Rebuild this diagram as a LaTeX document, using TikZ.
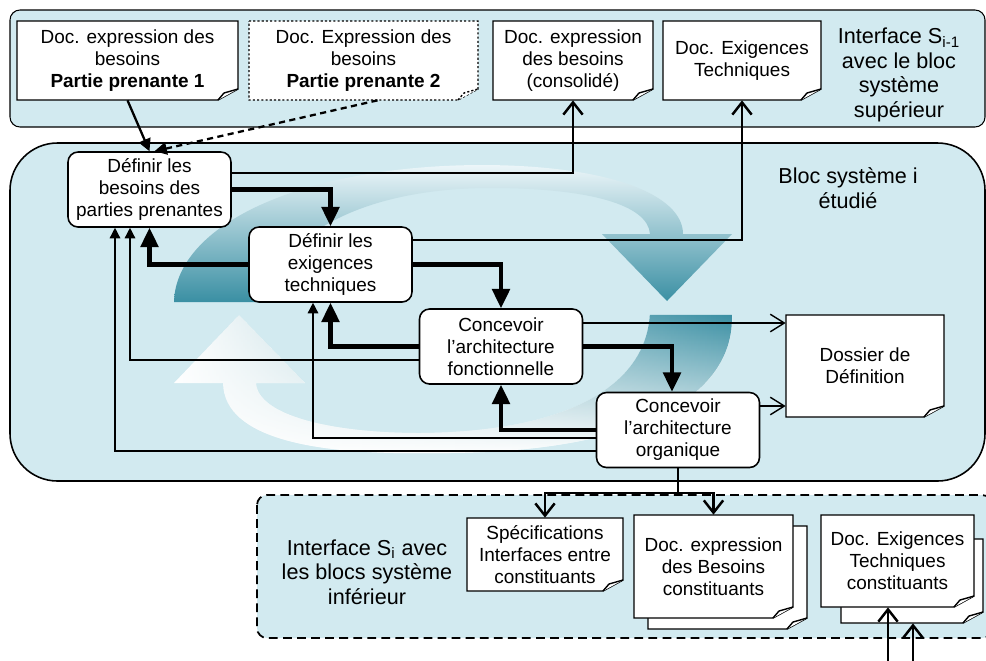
\documentclass[tikz,border=0pt]{standalone}
\usepackage{fontspec}
\setmainfont{Liberation Sans}
\usetikzlibrary{arrows.meta,calc,fadings}

\definecolor{bandblue}{RGB}{210,234,240}
\definecolor{ringteal}{RGB}{58,143,163}
\definecolor{ringlight}{RGB}{236,246,249}

\newcommand{\diagfont}{\fontsize{10.8}{12.5}\selectfont}
\newcommand{\bandfont}{\fontsize{12.3}{14}\selectfont}

% page with folded corner, then a named text node on it
\newcommand{\notepage}[7][]{%
  \filldraw[page,#1] (#3,#4) -- (#5,#4) -- (#5,#6-11) -- (#5-20,#6) -- (#3,#6) -- cycle;
  \filldraw[page,#1] (#5-20,#6) -- (#5-14,#6-7) -- (#5,#6-11);
  \node[doctext, minimum width={(#5-#3)*0.02cm}, minimum height={(#6-#4)*0.02cm}]
    (#2) at ({(#3+#5)/2},{(#4+#6)/2}) {#7};
}

\tikzset{
  band/.style={draw=black, line width=0.6pt, fill=bandblue},
  page/.style={draw=black, line width=0.8pt, fill=white},
  doctext/.style={inner sep=0pt, align=center},
  process/.style={draw=black, line width=0.9pt, fill=white, rounded corners=0.2cm,
    align=center, minimum width=3.26cm, minimum height=1.5cm, inner sep=1pt},
  bandlabel/.style={align=center, inner sep=0pt, font=\bandfont},
  thickflow/.style={line width=2.3pt, -{Triangle[length=11pt,width=10pt]}},
  thinback/.style={line width=0.8pt, -{Triangle[length=6pt,width=6pt]}},
  inflow/.style={line width=1.3pt, -{Triangle[length=7pt,width=7pt]}},
  docflow/.style={line width=1.4pt, -{Straight Barb[length=7pt,width=11pt]}},
  thinout/.style={line width=0.8pt, -{Straight Barb[length=8pt,width=10pt]}},
}

\begin{document}
\begin{tikzpicture}[x=0.02cm, y=-0.02cm, font=\diagfont]
\useasboundingbox (0,0) rectangle (986,660);

% bands
\draw[band, rounded corners=0.2cm] (10,10) rectangle (985,127);
\draw[band, line width=0.9pt, rounded corners=0.95cm] (10,143) rectangle (985,481);
\draw[band, line width=1pt, dash pattern=on 5pt off 3pt, rounded corners=0.2cm] (257,495) rectangle (992,638);

% cycle arrows
\shade[top color=ringlight, bottom color=ringteal]
  (174,302) .. controls (176,225) and (300,166) .. (480,165)
  .. controls (610,165) and (683,195) .. (683,234)
  -- (732,234) -- (667,301) -- (602,234) -- (650,234)
  .. controls (648,205) and (590,188) .. (490,188)
  .. controls (380,188) and (282,225) .. (265,302) -- cycle;
\def\ringback{(650,315) .. controls (645,390) and (560,432) .. (420,433)
  .. controls (330,433) and (258,415) .. (256,383)
  -- (305,383) -- (239,315) -- (174,383) -- (223,383)
  .. controls (224,440) and (320,455) .. (430,453)
  .. controls (650,455) and (735,390) .. (732,315) -- cycle}
\fill[white] \ringback;
\shade[top color=ringteal, bottom color=white, path fading=west] \ringback;

% documents
\notepage{d1}{17}{21}{238}{100}{Doc. expression des\\besoins\\\textbf{Partie prenante 1}}
\notepage[dash pattern=on 1.2pt off 1.2pt]{d2}{249}{21}{478}{100}{Doc. Expression des\\besoins\\\textbf{Partie prenante 2}}
\notepage{d3}{493}{21}{653}{100}{Doc. expression\\des besoins\\(consolidé)}
\notepage{d4}{663}{21}{821}{100}{Doc. Exigences\\Techniques}
\notepage{dos}{786}{315}{944}{417}{Dossier de\\Définition}
\notepage{b1}{467}{518}{623}{591}{Spécifications\\Interfaces entre\\constituants}
\notepage{b2back}{648}{526}{807}{629}{}
\notepage{b2}{634}{515}{793}{618}{Doc. expression\\des Besoins\\constituants}
\notepage{b3back}{841}{539}{983}{623}{}
\notepage{b3}{821}{515}{974}{607}{Doc. Exigences\\Techniques\\constituants}

% process steps
\node[process] (p1) at (149.5,189.5) {Définir les\\besoins des\\parties prenantes};
\node[process] (p2) at (330.5,264.5) {Définir les\\exigences\\techniques};
\node[process] (p3) at (501,346.5) {Concevoir\\l’architecture\\fonctionnelle};
\node[process] (p4) at (678,430) {Concevoir\\l’architecture\\organique};

% labels
\node[bandlabel] (suplabel) at (899,75) {Interface S\textsubscript{i-1}\\avec le bloc\\système\\supérieur};
\node[bandlabel] (bloclabel) at (848,188) {Bloc système i\\étudié};
\node[bandlabel] (inflabel) at (367,572) {Interface S\textsubscript{i} avec\\les blocs système\\inférieur};

% inputs
\draw[inflow] (d1.south) -- (p1.north);
\draw[inflow, dash pattern=on 3.5pt off 2.5pt] ($(d2.south)+(14,0)$) -- ($(p1.north)+(5,0)$);

% forward flow
\draw[docflow] ($(p1.east)+(0,-16.5)$) -| (d3.south);
\draw[thickflow] (p1.east) -| (p2.north);
\draw[docflow] ($(p2.east)+(0,-24.5)$) -| (d4.south);
\draw[thickflow] (p2.east) -| (p3.north);
\coordinate (p3out) at ($(p3.east)+(0,-23.5)$);
\draw[thinout] (p3out) -- (p3out -| dos.west);
\draw[thickflow] (p3.east) -| ($(p4.north)+(-6,0)$);
\coordinate (p4out) at ($(p4.east)+(0,-24)$);
\draw[thinout] (p4out) -- (p4out -| dos.west);

% feedback
\draw[thickflow] (p4.west) -| (p3.south);
\draw[thinback] ($(p4.west)+(0,8)$) -| ($(p2.south)+(-17.5,0)$);
\draw[thinback] ($(p4.west)+(0,21)$) -| ($(p1.south)+(-34.5,0)$);
\draw[thickflow] (p3.west) -| (p2.south);
\draw[thinback] ($(p3.west)+(0,13.5)$) -| ($(p1.south)+(-19.5,0)$);
\draw[thickflow] (p2.west) -| (p1.south);

% to lower level
\coordinate (split) at (678,493);
\draw[line width=1.4pt] (p4.south) -- (split);
\draw[docflow] (split) -| (b1.north);
\draw[docflow] (split) -| (b2.north);
\coordinate (feed1) at (888,665);
\coordinate (feed2) at (913,665);
\draw[docflow] (feed1) -- (feed1 |- b3.south);
\draw[docflow] (feed2) -- (feed2 |- b3back.south);
\end{tikzpicture}
\end{document}
